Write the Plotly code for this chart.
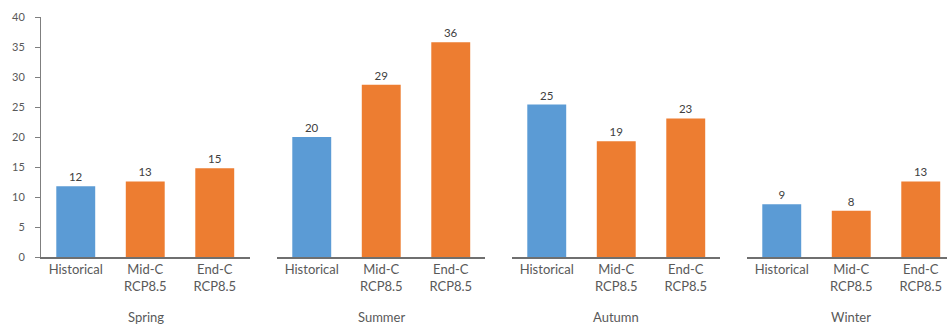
import plotly.graph_objects as go

seasons = ["Spring", "Summer", "Autumn", "Winter"]
scenarios = ["Historical", "Mid-C<br>RCP8.5", "End-C<br>RCP8.5"]
spring = [11.8, 12.6, 14.8]
summer = [20.0, 28.7, 35.8]
autumn = [25.4, 19.3, 23.1]
winter = [8.8, 7.7, 12.6]
y_ticks = [0, 5, 10, 15, 20, 25, 30, 35, 40]

season_values = [spring, summer, autumn, winter]
bar_colors = ["#5B9BD5", "#ED7D31", "#ED7D31"]

W, H = 947, 324
ML, MT, MB = 41, 17, 67
PW = W - ML
# panel pixel extents
panels = [(41, 250), (277, 485), (512, 720), (747, 947)]
cat_w = 69.5

fig = go.Figure()
text_color = "#595959"
fam = "Lato, Open Sans, sans-serif"
font = dict(family=fam, size=11, color=text_color)
xfont = dict(family=fam, size=13, color=text_color)

for i, (name, vals) in enumerate(zip(seasons, season_values)):
    xa = "x" if i == 0 else f"x{i+1}"
    fig.add_trace(go.Bar(
        x=scenarios, y=vals, xaxis=xa, yaxis="y",
        marker=dict(color=bar_colors, line=dict(width=0)),
        texttemplate="%{y:.0f}", textposition="outside",
        textfont=dict(family=fam, size=11.5, color="#404040"),
        cliponaxis=False, showlegend=False, name=name,
    ))

layout = dict(
    width=W, height=H,
    margin=dict(l=ML, r=0, t=MT, b=MB),
    paper_bgcolor="white", plot_bgcolor="white",
    bargap=0.44, font=font, showlegend=False,
    yaxis=dict(range=[0, 40], tickvals=y_ticks, showgrid=False, zeroline=False,
               showline=True, linecolor="#7f7f7f", linewidth=1,
               ticks="outside", ticklen=5, tickcolor="#7f7f7f",
               ticklabelstandoff=8, anchor="x", tickfont=font),
)
annotations = []
for i, (p0, p1) in enumerate(panels):
    key = "xaxis" if i == 0 else f"xaxis{i+1}"
    d0 = (p0 - ML) / PW
    d1 = (p1 - ML) / PW
    span = (p1 - p0) / cat_w
    layout[key] = dict(
        domain=[d0, min(d1, 1.0)], anchor="y",
        range=[-0.5, -0.5 + span],
        showgrid=False, zeroline=False, showline=True,
        linecolor="#6f6f6f", linewidth=1.5, ticks="",
        tickfont=xfont, fixedrange=True,
    )
    ref = "x" if i == 0 else f"x{i+1}"
    annotations.append(dict(
        text=seasons[i], xref=f"{ref} domain", yref="paper",
        x=((p0 + p1) / 2 - p0) / (p1 - p0) if i < 3 else (104.25) / (p1 - p0),
        y=(257 - 317) / (H - MT - MB), yanchor="middle", xanchor="center",
        showarrow=False, font=xfont,
    ))
layout["annotations"] = annotations
fig.update_layout(**layout)

fig.write_html("out.html")
